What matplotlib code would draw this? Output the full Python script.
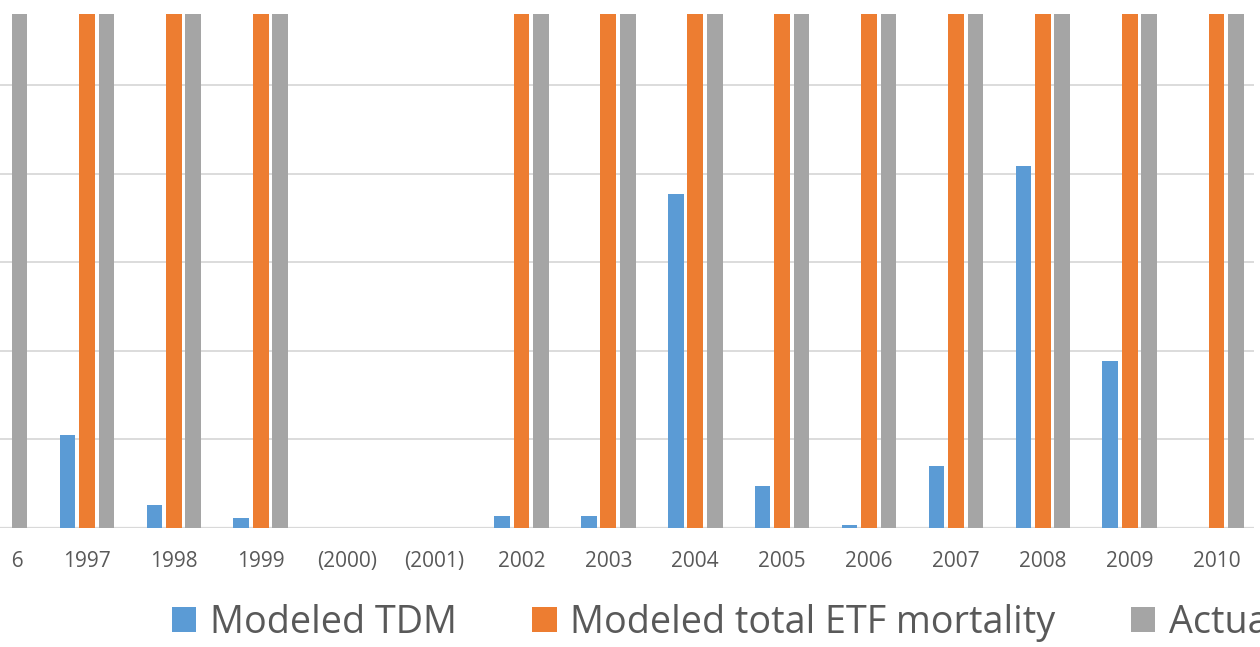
import matplotlib
matplotlib.use('Agg')
from matplotlib import pyplot as plt
from matplotlib.transforms import Bbox
import numpy as np

plt.rcParams['font.family'] = ['Open Sans', 'DejaVu Sans']

years = ['1996', '1997', '1998', '1999', '(2000)', '(2001)', '2002', '2003',
         '2004', '2005', '2006', '2007', '2008', '2009', '2010']
# values in gridline units (axis labels are cropped out of the reference)
tdm = [0, 1.05, 0.26, 0.11, 0, 0, 0.135, 0.135, 3.77, 0.47, 0.03, 0.70, 4.09, 1.89, 0]
etf_total = [0, 12, 12, 12, 0, 0, 12, 12, 12, 12, 12, 12, 12, 12, 12]
actual = [12, 12, 12, 12, 0, 0, 12, 12, 12, 12, 12, 12, 12, 12, 12]

fig = plt.figure(figsize=(12.6, 6.47), dpi=100)
ax = fig.add_axes([0, 119 / 647, 1254 / 1260, 514 / 647])

x = np.arange(len(years))
w = 0.18
off = 0.224
ax.bar(x - off, tdm, w, color='#5b9bd5', label='Modeled TDM', zorder=3)
ax.bar(x, etf_total, w, color='#ed7d31', label='Modeled total ETF mortality', zorder=3)
ax.bar(x + off, actual, w, color='#a5a5a5', label='Actual', zorder=3)

ax.set_xlim(0, 14.43)
ax.set_ylim(0, 5.8)
ax.set_yticks([1, 2, 3, 4, 5])
ax.set_yticklabels([])
ax.grid(axis='y', color='#d9d9d9', linewidth=1.3, zorder=0)
ax.axhline(0, color='#d9d9d9', linewidth=1.6, zorder=2)
for s in ax.spines.values():
    s.set_visible(False)
ax.tick_params(axis='y', length=0)
ax.set_xticks(x)
ax.set_xticklabels(years, fontsize=15, color='#595959')
ax.tick_params(axis='x', length=0, pad=16.5)

# the reference is cropped: only the tail of the first label shows
clip = Bbox.from_extents(11, 0, 1260, 647)
ax.xaxis.get_major_ticks()[0].label1.set_clip_box(clip)
ax.xaxis.get_major_ticks()[0].label1.set_clip_on(True)

leg = fig.legend(loc='center left', bbox_to_anchor=(172 / 1260, 1 - 623 / 647),
                 ncol=3, frameon=False, fontsize=27.2, handlelength=0.64,
                 handleheight=0.64, handletextpad=0.36, columnspacing=2.0,
                 borderaxespad=0, borderpad=0)
for t in leg.get_texts():
    t.set_color('#595959')

fig.savefig('out.png', dpi=100)
